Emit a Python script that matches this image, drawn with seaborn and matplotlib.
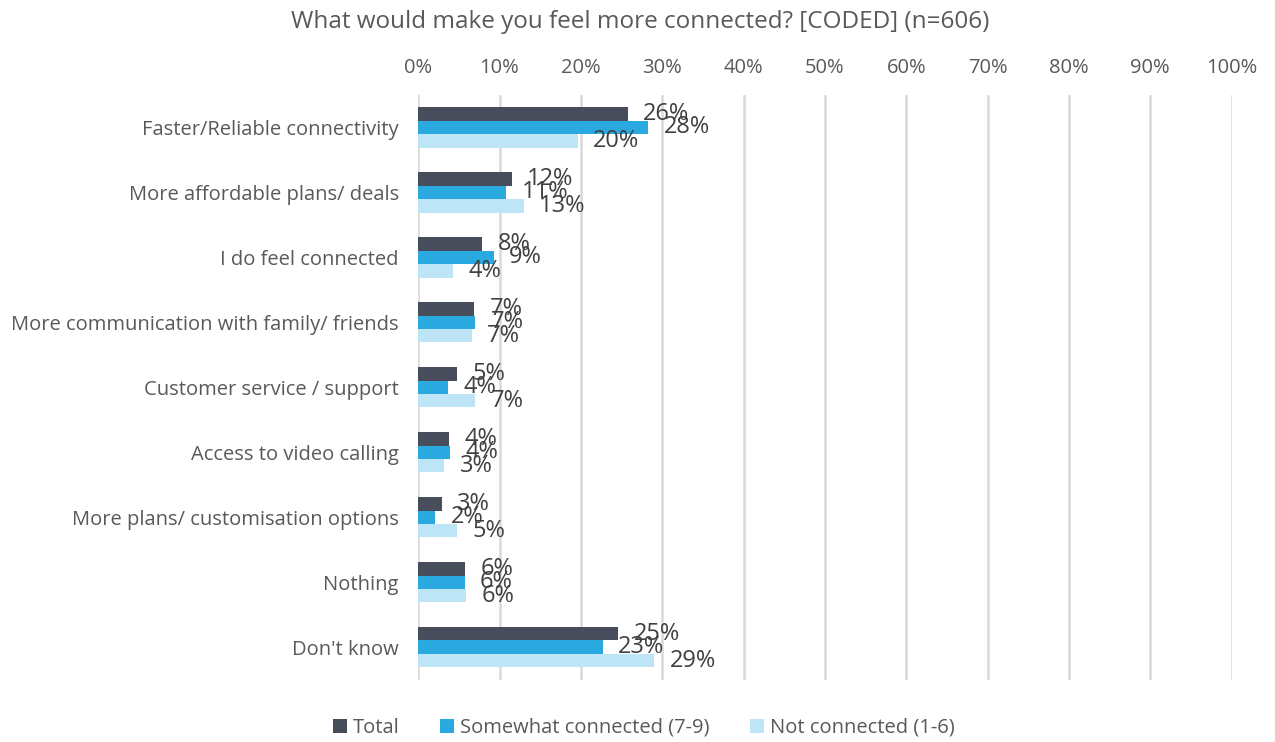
import matplotlib
matplotlib.use("Agg")
import matplotlib.pyplot as plt
import seaborn as sns
import pandas as pd
from matplotlib.ticker import FuncFormatter, MultipleLocator
from matplotlib.patches import Patch

categories = [
    "Faster/Reliable connectivity",
    "More affordable plans/ deals",
    "I do feel connected",
    "More communication with family/ friends",
    "Customer service / support",
    "Access to video calling",
    "More plans/ customisation options",
    "Nothing",
    "Don't know",
]
series = ["Total", "Somewhat connected (7-9)", "Not connected (1-6)"]
total = [25.8, 11.5, 7.9, 6.9, 4.8, 3.8, 2.9, 5.8, 24.6]
somewhat = [28.3, 10.8, 9.3, 7.0, 3.7, 3.9, 2.1, 5.7, 22.7]
not_connected = [19.6, 13.0, 4.3, 6.6, 7.0, 3.2, 4.8, 5.9, 29.0]
colors = ["#474D5B", "#29A9E0", "#BEE5F5"]

df = pd.DataFrame({
    "category": categories * 3,
    "series": [s for s in series for _ in categories],
    "value": total + somewhat + not_connected,
})

sns.set_theme(style="white")
plt.rcParams["font.family"] = ["Open Sans", "DejaVu Sans"]

fig = plt.figure(figsize=(12.75, 7.42), dpi=100)
ax = fig.add_axes([0.328, 0.084, 0.638, 0.788])

sns.barplot(
    data=df, y="category", x="value", hue="series", orient="h",
    order=categories, hue_order=series, palette=colors,
    width=0.62, errorbar=None, legend=False, ax=ax, saturation=1,
    linewidth=0,
)

for cont in ax.containers:
    ax.bar_label(cont, labels=[f"{round(b.get_width()):d}%" for b in cont],
                 padding=11, fontsize=17, color="#404040")

ax.set_xlim(0, 100)
ax.set_ylim(len(categories) - 0.5, -0.5)
ax.xaxis.set_major_locator(MultipleLocator(10))
ax.xaxis.set_major_formatter(FuncFormatter(lambda v, p: f"{v:.0f}%"))
ax.xaxis.tick_top()
ax.tick_params(axis="x", length=0, pad=12, labelsize=14.5, labelcolor="#595959")
ax.tick_params(axis="y", length=0, pad=14, labelsize=14.5, labelcolor="#595959")
ax.set_xlabel("")
ax.set_ylabel("")
ax.grid(axis="x", color="#D9D9D9", linewidth=1.8)
ax.set_axisbelow(True)
for sp in ax.spines.values():
    sp.set_visible(False)

fig.text(0.502, 0.971, "What would make you feel more connected? [CODED] (n=606)",
         ha="center", va="center", fontsize=17.5, color="#595959")

handles = [Patch(facecolor=c, edgecolor="none") for c in colors]
fig.legend(handles, series, loc="center", bbox_to_anchor=(0.505, 0.019),
           ncol=3, frameon=False, fontsize=14.5, handlelength=0.7, handleheight=0.7,
           handletextpad=0.3, columnspacing=2.0, labelcolor="#595959")

fig.savefig("out.png", dpi=100)
